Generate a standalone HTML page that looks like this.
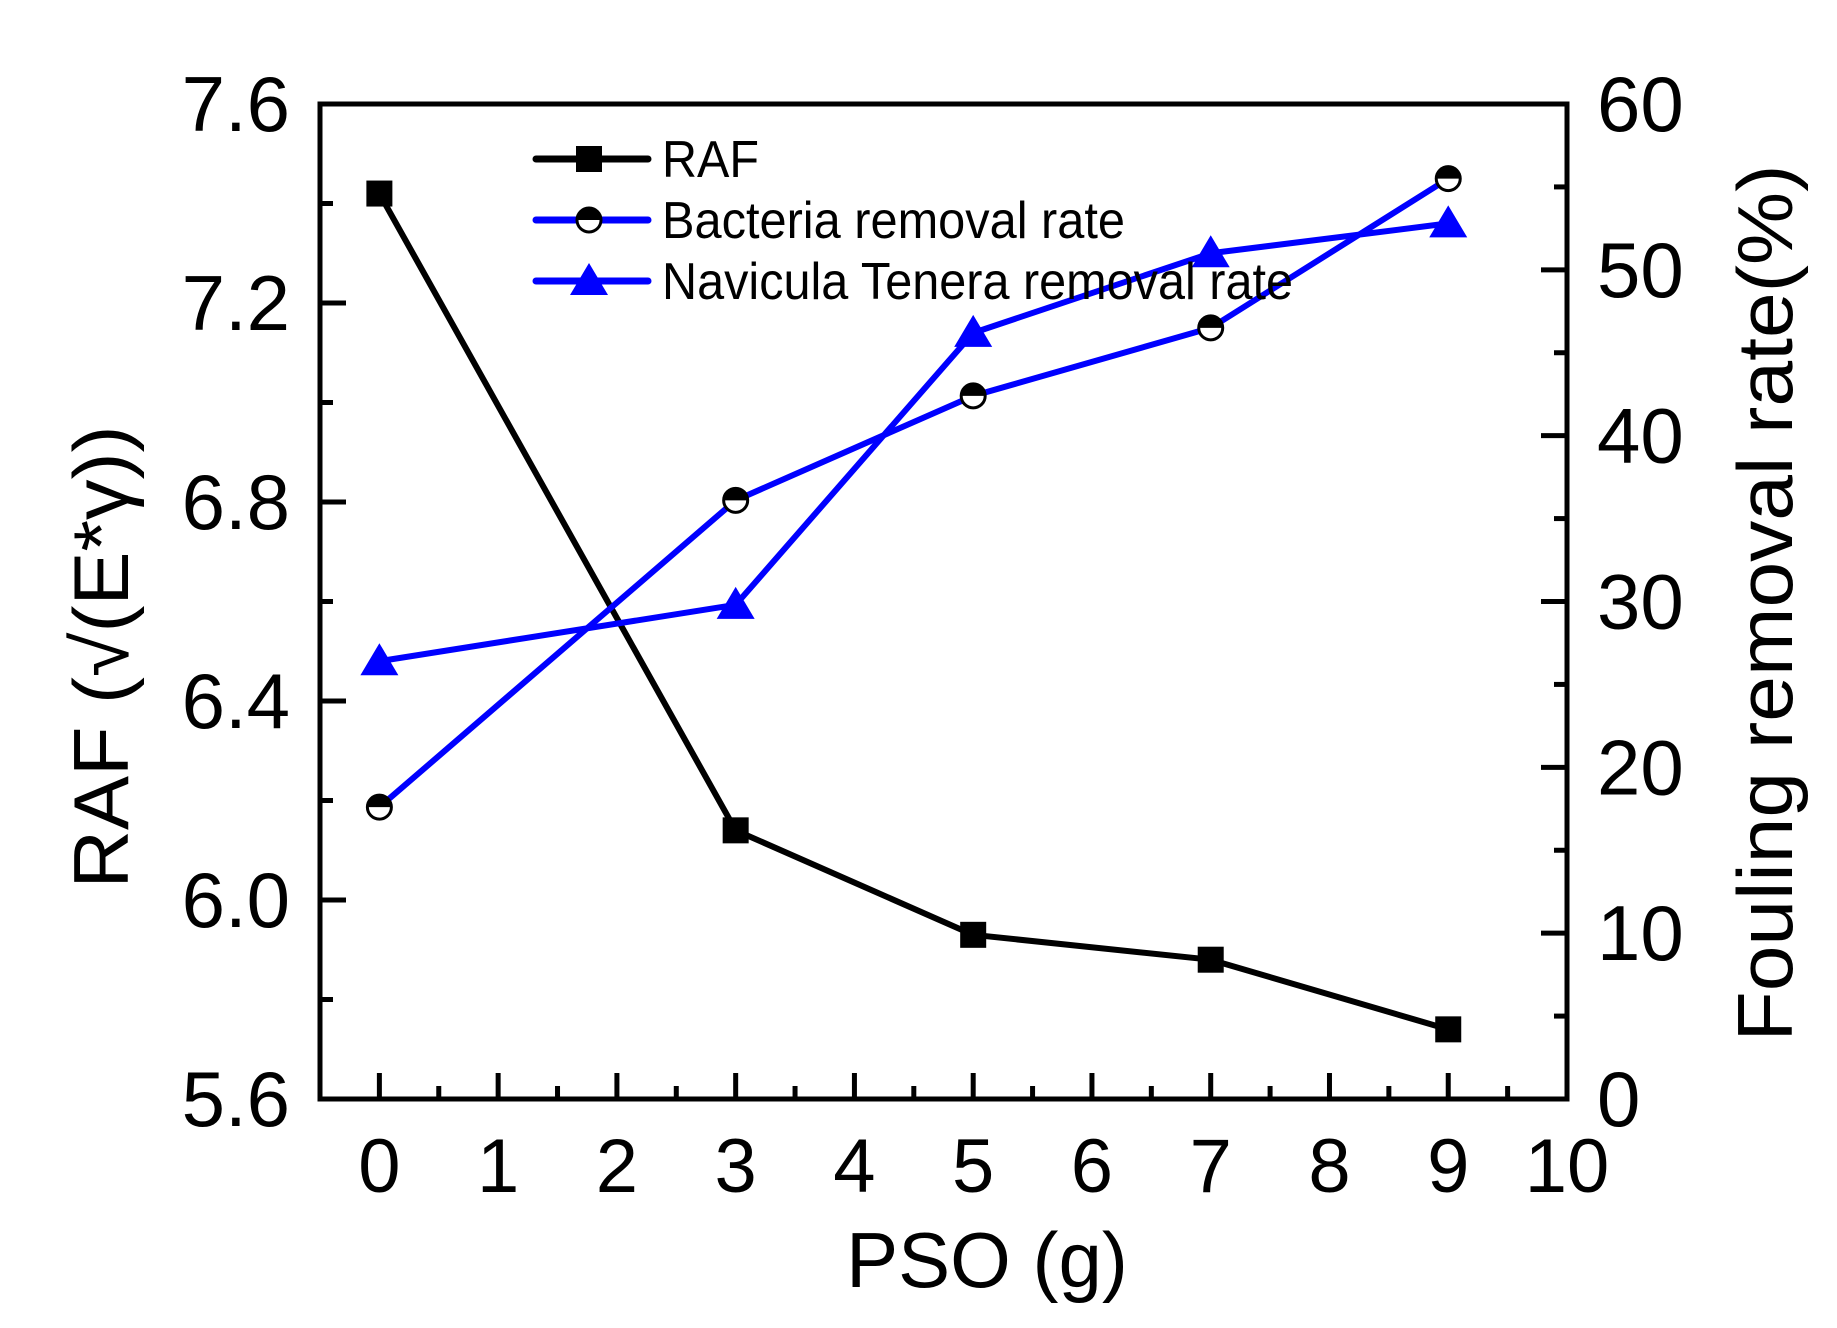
<!DOCTYPE html>
<html><head><meta charset="utf-8"><style>html,body{margin:0;padding:0;background:#fff}svg{display:block}text{font-family:"Liberation Sans",sans-serif}</style></head>
<body>
<svg id="chart" width="1837" height="1328" viewBox="0 0 1837 1328" xmlns="http://www.w3.org/2000/svg">
<rect width="1837" height="1328" fill="#fff"/>
<g id="plot"></g>
<text x="987" y="1287" font-size="78" text-anchor="middle">PSO (g)</text>
<text transform="translate(128,657) rotate(-90)" font-size="78" text-anchor="middle" textLength="463" lengthAdjust="spacingAndGlyphs">RAF (√(E*γ))</text>
<text transform="translate(1792,603) rotate(-90)" font-size="78" text-anchor="middle" textLength="877" lengthAdjust="spacingAndGlyphs">Fouling removal rate(%)</text>
</svg>
<script>
const categories=[0,3,5,7,9];
const rafValues=[7.42,6.14,5.93,5.88,5.74];
const bacteriaValues=[17.6,36.1,42.4,46.5,55.5];
const naviculaValues=[26.4,29.8,46.2,51.0,52.8];
const xTickLabels=["0","1","2","3","4","5","6","7","8","9","10"];
const leftTickLabels=["5.6","6.0","6.4","6.8","7.2","7.6"];
const rightTickLabels=["0","10","20","30","40","50","60"];

const L=320,R=1567,T=104,B=1099;
const NS="http://www.w3.org/2000/svg";
const g=document.getElementById('plot');
function x(v){return L+(v+0.5)/10.5*(R-L);}
function yl(v){return B-(v-5.6)/2.0*(B-T);}
function yr(v){return B-v/60*(B-T);}
function mk(tag,attrs,parent){const e=document.createElementNS(NS,tag);for(const k in attrs)e.setAttribute(k,attrs[k]);(parent||g).appendChild(e);return e;}

let f=mk('rect',{x:L,y:T,width:R-L,height:B-T,fill:'none',stroke:'#000','stroke-width':5});



for(let i=0;i<=20;i++){const v=i/2;const len=i%2===0?26:13;
 let t=mk('line',{x1:x(v),x2:x(v),y1:B,y2:B-len,stroke:'#000','stroke-width':5});
 
 }
xTickLabels.forEach((s,i)=>{let t=mk('text',{x:x(+s),y:1192,'font-size':76,'text-anchor':'middle'});t.textContent=s;
 
 });
for(let i=0;i<=10;i++){const v=5.6+i*0.2;const len=i%2===0?26:13;
 let t=mk('line',{x1:L,x2:L+len,y1:yl(v),y2:yl(v),stroke:'#000','stroke-width':5});
 
 }
leftTickLabels.forEach(s=>{let t=mk('text',{x:290,y:yl(+s)+27,'font-size':78,'text-anchor':'end'});t.textContent=s;
 
 });
for(let i=0;i<=12;i++){const v=i*5;const len=i%2===0?26:13;
 let t=mk('line',{x1:R,x2:R-len,y1:yr(v),y2:yr(v),stroke:'#000','stroke-width':5});
 
 }
rightTickLabels.forEach(s=>{let t=mk('text',{x:1597,y:yr(+s)+27,'font-size':78,'text-anchor':'start'});t.textContent=s;
 
 });

function square(cx,cy,name){let e=mk('rect',{x:cx-13,y:cy-13,width:26,height:26,fill:'#000'});
 
 }
function halfCircle(cx,cy,name){let gg=mk('g',{});
 
 
 mk('circle',{cx:cx,cy:cy,r:12,fill:'#fff',stroke:'#000','stroke-width':3},gg);
 mk('path',{d:`M${cx-12},${cy} A12,12 0 0 1 ${cx+12},${cy} Z`,fill:'#000'},gg);}
function tri(cx,cy,name){let e=mk('polygon',{points:`${cx},${cy-18} ${cx-19},${cy+14} ${cx+19},${cy+14}`,fill:'#0000ff'});
 
 }

function series(vals,yf,color,name,marker){
 const pts=categories.map((c,i)=>[x(c),yf(vals[i])]);
 let p=mk('polyline',{points:pts.map(p=>p.join(',')).join(' '),fill:'none',stroke:color,'stroke-width':6,'stroke-linejoin':'round'});
 
 
 pts.forEach(pt=>marker(pt[0],pt[1],name+'-point'));}
series(rafValues,yl,'#000','raf',square);
series(bacteriaValues,yr,'#0000ff','bacteria',halfCircle);
series(naviculaValues,yr,'#0000ff','navicula',tri);

const leg=[["RAF","#000",square,97,159],["Bacteria removal rate","#0000ff",halfCircle,463,220],["Navicula Tenera removal rate","#0000ff",tri,631,281]];
leg.forEach(([label,color,m,tl,ly])=>{
 let l=mk('line',{x1:536,x2:648,y1:ly,y2:ly,stroke:color,'stroke-width':7,'stroke-linecap':'round'});
 
 
 m(589,ly,'legend-marker');
 let t=mk('text',{x:662,y:ly+18,'font-size':52,textLength:tl,lengthAdjust:'spacingAndGlyphs'});t.textContent=label;
 
 });
</script>
</body></html>
